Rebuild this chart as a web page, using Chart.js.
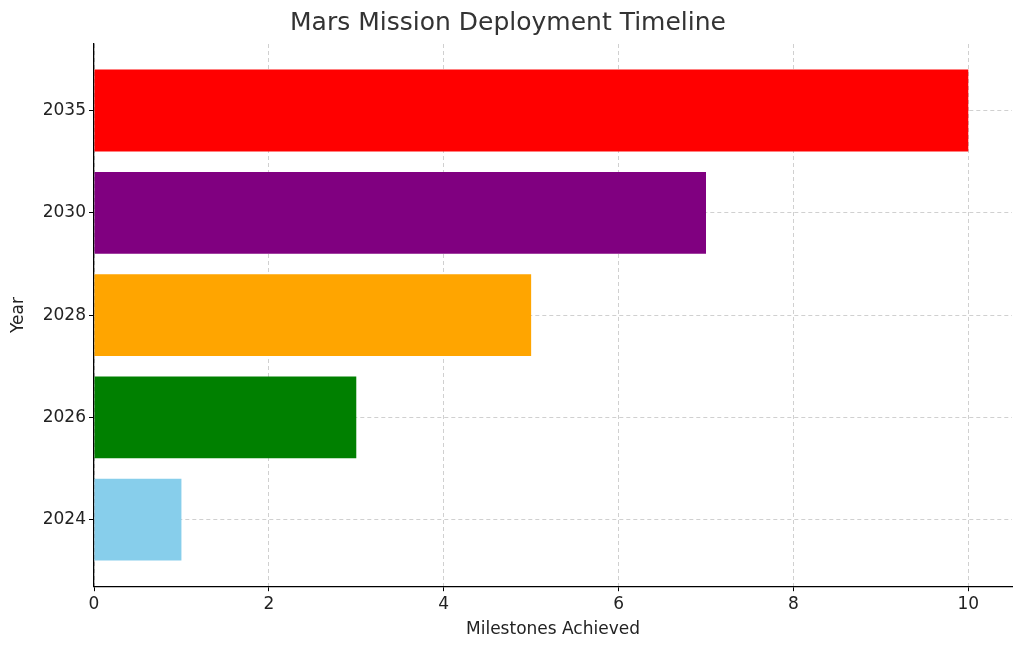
<!DOCTYPE html>
<html><head><meta charset="utf-8">
<script src="https://cdn.jsdelivr.net/npm/chart.js@4"></script>
<style>html,body{margin:0;background:#fff}#w{width:1024px;height:652px}</style>
</head><body><div id="w"><canvas id="c"></canvas></div>
<script>
const years = ['2024','2026','2028','2030','2035'];
const milestones = [1,3,5,7,10];
const colors = ['skyblue','green','orange','purple','red'];
const xTicks = [0,2,4,6,8,10];

const grid = {color:'#d0d0d0', lineWidth:1, offset:false, drawTicks:true, tickLength:5, tickColor:'#000'};
const border = {color:'#000',width:1.3,dash:[4,3]};
new Chart(document.getElementById('c'), {
  type:'bar',
  data:{datasets:[{
    data: milestones.map((v,i)=>({x:v,y:i})),
    backgroundColor: colors,
    barPercentage:1, categoryPercentage:0.8
  }]},
  options:{
    indexAxis:'y', responsive:true, maintainAspectRatio:false, animation:false,
    layout:{padding:{top:4,right:12,left:4,bottom:8}},
    plugins:{legend:{display:false},tooltip:{enabled:false},
      title:{display:true,text:'Mars Mission Deployment Timeline',color:'#333',
        font:{family:'DejaVu Sans',size:25,weight:'normal'},padding:{top:4,bottom:6}}},
    scales:{
      x:{type:'linear',min:0,max:10.5,offset:false,
        afterBuildTicks:s=>{s.ticks=xTicks.map(v=>({value:v}));},
        grid, border,
        ticks:{color:'#222',font:{family:'DejaVu Sans',size:17}},
        title:{display:true,text:'Milestones Achieved',color:'#222',font:{family:'DejaVu Sans',size:17},padding:{top:2}}},
      y:{type:'linear',min:-0.65,max:4.65,offset:false,
        afterBuildTicks:s=>{s.ticks=years.map((y,i)=>({value:i}));},
        afterFit:s=>{s.width=90;},
        grid, border,
        ticks:{color:'#222',font:{family:'DejaVu Sans',size:17},callback:v=>years[v]},
        title:{display:true,text:'Year',color:'#222',font:{family:'DejaVu Sans',size:17},padding:{bottom:2}}}
    }
  }
});
</script></body></html>
